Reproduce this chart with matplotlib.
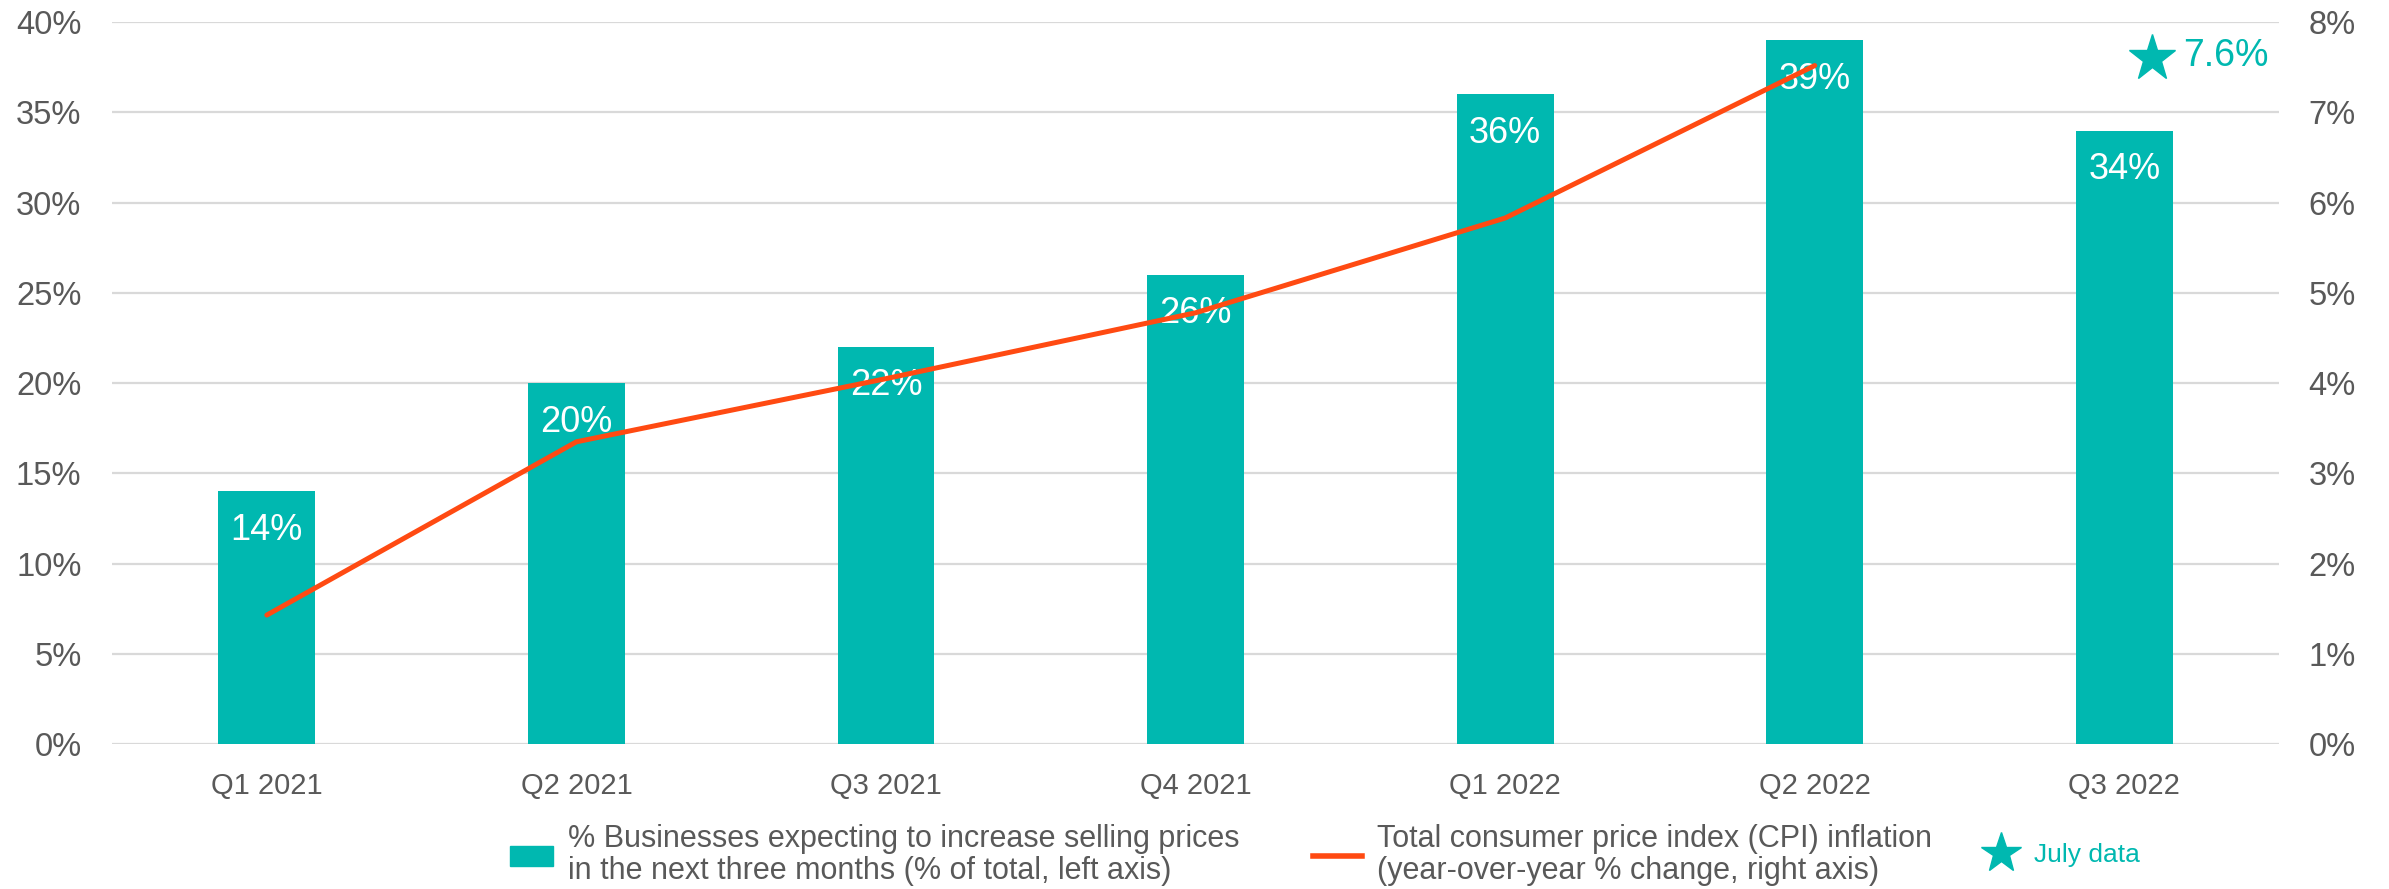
import matplotlib
matplotlib.use("Agg")
import matplotlib.pyplot as plt
import matplotlib.transforms as mtransforms
from matplotlib.patches import Patch
from matplotlib.lines import Line2D
import numpy as np

plt.rcParams['font.family'] = ['Liberation Sans', 'DejaVu Sans']

quarters = ["Q1 2021", "Q2 2021", "Q3 2021", "Q4 2021", "Q1 2022", "Q2 2022", "Q3 2022"]
business_pct = [14, 20, 22, 26, 36, 39, 34]
cpi_pct = [1.43, 3.35, 4.05, 4.78, 5.83, 7.52]
july_cpi = 7.6

TEAL = "#00B8B0"
ORANGE = "#FF4A12"
GRAY = "#595959"
GRID = "#D9D9D9"

fig = plt.figure(figsize=(23.89, 8.89), dpi=100)
ax = fig.add_axes([0.0469, 0.163, 0.9071, 0.812])
ax2 = ax.twinx()

x = np.arange(len(quarters))
ax.bar(x, business_pct, width=0.313, color=TEAL, zorder=2)
for xi, v in zip(x, business_pct):
    ax.annotate(f"{v}%", (xi, v), xytext=(0, -28), textcoords="offset points",
                ha="center", va="center", color="white", fontsize=26, zorder=5)

ax.set_xlim(-0.5, len(quarters) - 0.5)
ax.set_ylim(0, 40)
ax.set_yticks(range(0, 41, 5))
ax.set_yticklabels([f"{t}%" for t in range(0, 41, 5)])
ax.yaxis.grid(True, color=GRID, linewidth=1.6, zorder=0)
ax.set_axisbelow(True)
ax.set_xticks(x)
ax.set_xticklabels(quarters)
ax.tick_params(axis="both", length=0, labelcolor=GRAY)
ax.tick_params(axis="x", pad=20, labelsize=21)
ax.tick_params(axis="y", pad=22, labelsize=23.5)
for s in ax.spines.values():
    s.set_visible(False)

ax2.plot(x[:len(cpi_pct)], cpi_pct, color=ORANGE, linewidth=3.6,
         solid_capstyle="round", zorder=3)
ax2.set_ylim(0, 8)
ax2.set_yticks(range(0, 9))
ax2.set_yticklabels([f"{t}%" for t in range(0, 9)])
ax2.tick_params(axis="y", length=0, labelsize=23.5, labelcolor=GRAY, pad=21)
for s in ax2.spines.values():
    s.set_visible(False)

# July CPI reading, shown beside the last quarter
shift = mtransforms.ScaledTranslation(28 / 100, 0, fig.dpi_scale_trans)
ax2.plot([x[-1]], [july_cpi], marker="*", markersize=35, color=TEAL,
         linestyle="none", transform=ax2.transData + shift, zorder=4)
ax2.annotate(f"{july_cpi}%", (x[-1], july_cpi), xytext=(42, 2),
             textcoords="offset points", ha="left", va="center",
             color=TEAL, fontsize=27)

legend_y = 1 - 855 / 889
leg_kw = dict(frameon=False, loc="center left", borderaxespad=0,
              borderpad=0, labelspacing=0)
l1 = fig.legend([Patch(color=TEAL)],
                ["% Businesses expecting to increase selling prices\nin the next three months (% of total, left axis)"],
                bbox_to_anchor=(510 / 2389, legend_y), fontsize=22,
                handlelength=1.4, handleheight=0.65, handletextpad=0.5,
                labelcolor=GRAY, **leg_kw)
l2 = fig.legend([Line2D([], [], color=ORANGE, linewidth=4)],
                ["Total consumer price index (CPI) inflation\n(year-over-year % change, right axis)"],
                bbox_to_anchor=(1313 / 2389, legend_y), fontsize=22,
                handlelength=1.6, handletextpad=0.5, labelcolor=GRAY, **leg_kw)
l3 = fig.legend([Line2D([], [], color=TEAL, marker="*", markersize=30, linestyle="none")],
                ["July data"],
                bbox_to_anchor=(1984 / 2389, legend_y), fontsize=19,
                handlelength=1.3, handletextpad=0.6, labelcolor=TEAL, **leg_kw)
for leg in (l1, l2):
    for t in leg.get_texts():
        t.set_linespacing(1.12)

fig.savefig("out.png", dpi=100)
